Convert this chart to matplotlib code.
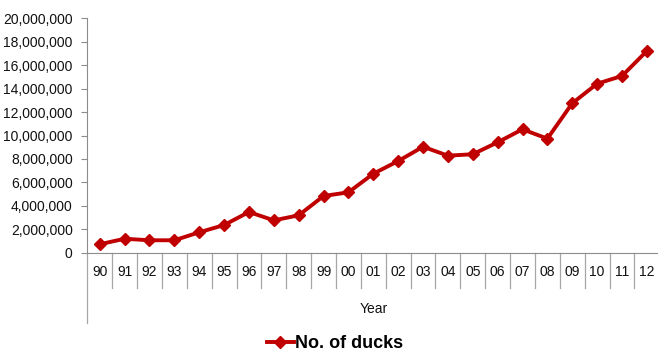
import numpy as np
import matplotlib.pyplot as plt
from matplotlib.ticker import FuncFormatter

years = ['90', '91', '92', '93', '94', '95', '96', '97', '98', '99', '00', '01',
         '02', '03', '04', '05', '06', '07', '08', '09', '10', '11', '12']
ducks = [720000, 1190000, 1060000, 1060000, 1740000, 2360000, 3470000, 2760000,
         3190000, 4840000, 5150000, 6740000, 7820000, 9040000, 8280000, 8400000,
         9420000, 10530000, 9730000, 12750000, 14420000, 15080000, 17210000]

plt.rcParams['font.family'] = ['Liberation Sans', 'DejaVu Sans']

W, H = 658, 352
fig = plt.figure(figsize=(W / 100, H / 100), dpi=100)
ax = fig.add_axes([87.3 / W, (H - 252.7) / H, 572 / W, 234.4 / H])

x = np.arange(len(years))
line, = ax.plot(x, ducks, color='#C00000', linewidth=2.8, marker='D', markersize=6.5,
                label='No. of ducks', clip_on=False)

ax.set_xlim(-0.5, len(years) - 0.5)
ax.set_ylim(0, 20000000)
ax.set_yticks(np.arange(0, 20000001, 2000000))
ax.yaxis.set_major_formatter(FuncFormatter(lambda v, p: f'{int(v):,}'))
ax.set_xticks(x)
ax.set_xticklabels(years)

gray = '#8c8c8c'
ax.spines['top'].set_visible(False)
ax.spines['right'].set_visible(False)
ax.spines['left'].set_color(gray)
ax.spines['bottom'].set_color(gray)
ax.tick_params(axis='y', length=4.5, width=0.8, color=gray, pad=6, labelsize=10, labelcolor='#111111')
ax.tick_params(axis='x', length=0, pad=9, labelsize=10, labelcolor='#111111')

# multi-level category axis look: dividers and extended left spine
tr = ax.get_xaxis_transform()
for b in np.arange(0.5, len(years), 1.0):
    ax.plot([b, b], [0, -0.149], transform=tr, color='#a6a6a6', linewidth=0.9, clip_on=False)
ax.plot([-0.5, -0.5], [0, -0.299], transform=tr, color='#a6a6a6', linewidth=0.9, clip_on=False)

ax.text(0.5, -0.240, 'Year', transform=ax.transAxes, ha='center', va='center',
        fontsize=10, color='#111111')

fig.legend(handles=[line], loc='center', bbox_to_anchor=(335 / W, 1 - 344 / H),
           frameon=False, prop={'weight': 'bold', 'size': 13},
           handlelength=1.5, handletextpad=0.05, borderpad=0)

fig.savefig('out.png', dpi=100)
